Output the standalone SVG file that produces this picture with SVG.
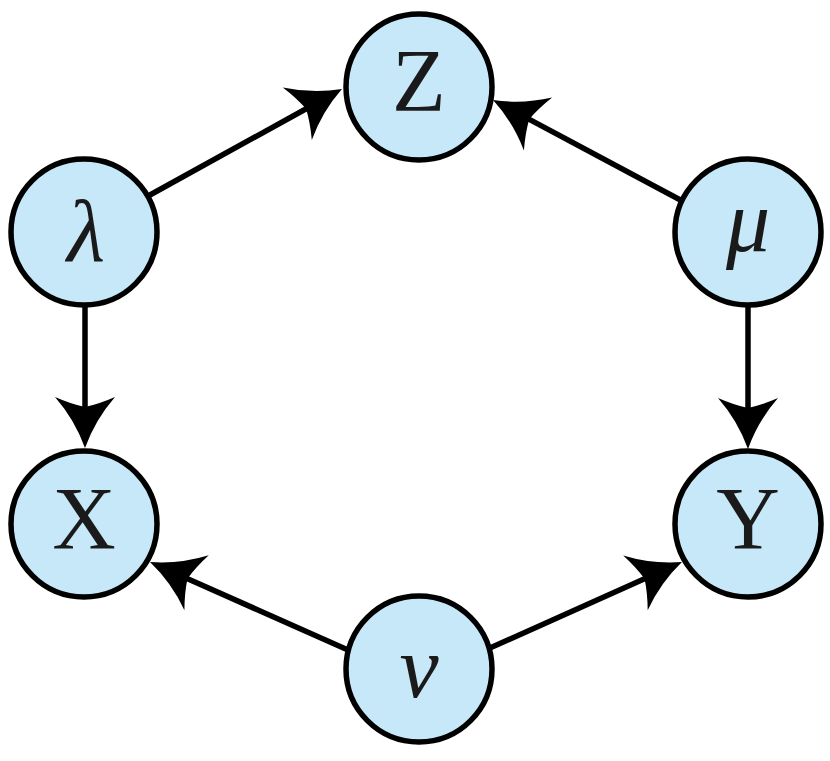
<svg xmlns="http://www.w3.org/2000/svg" width="830" height="761" viewBox="0 0 830 761">
<style>
.node circle{fill:#C6E8F8;stroke:#000;stroke-width:5.5}
.node text{font-family:"Liberation Serif","Times New Roman",serif;font-size:88px;fill:#1a1a1a;text-anchor:middle}
.node text.g{font-style:italic}
.edge{stroke:#000;stroke-width:5.5;fill:none;marker-end:url(#ah)}
</style>
<defs>
<marker id="ah" markerUnits="userSpaceOnUse" orient="auto" refX="0" refY="0" markerWidth="100" markerHeight="100" overflow="visible">
<path d="M30,0 Q2,-10 -21,-30 Q-14,-14 -11,0 Q-14,14 -21,30 Q2,10 30,0 Z" fill="#000"/>
</marker>
</defs>
<rect width="830" height="761" fill="#fff"/>
<g id="connectors">
<line class="edge" x1="140" y1="200.5" x2="315.7" y2="103.5"/>
<line class="edge" x1="686" y1="203" x2="519.5" y2="114.1"/>
<line class="edge" x1="357" y1="654" x2="177.4" y2="574.2"/>
<line class="edge" x1="481" y1="652" x2="654.6" y2="574.3"/>
<line class="edge" x1="85" y1="300" x2="85" y2="418"/>
<line class="edge" x1="748" y1="300" x2="748" y2="419"/>
</g>
<g id="node-Z" class="node"><circle cx="419" cy="87" r="73"/><text x="419" y="110">Z</text></g>
<g id="node-lambda" class="node"><circle cx="84" cy="232" r="73"/><text class="g" x="86" y="261">λ</text></g>
<g id="node-mu" class="node"><circle cx="748" cy="232" r="73"/><text class="g" x="748" y="251">μ</text></g>
<g id="node-X" class="node"><circle cx="84" cy="524" r="73"/><text x="84" y="548">X</text></g>
<g id="node-Y" class="node"><circle cx="748" cy="524" r="73"/><text x="748" y="548">Y</text></g>
<g id="node-nu" class="node"><circle cx="419" cy="669" r="73"/><text class="g" x="419" y="697">ν</text></g>
</svg>
